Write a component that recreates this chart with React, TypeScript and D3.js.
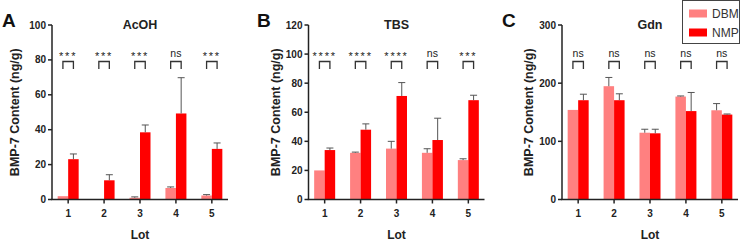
import React from 'react';
import * as d3 from 'd3';

// lots on the x axis
const lots = ['1', '2', '3', '4', '5'];
const groups = ['DBM', 'NMP'];

// AcOH extraction (ng/g)
const acohDbm = [1.9, 0, 1, 6.6, 2.3];
const acohDbmErr = [0, 0, 0.5, 0.6, 0.5];
const acohNmp = [23.1, 11, 38.5, 49.3, 29];
const acohNmpErr = [3, 3.2, 4.2, 20.5, 3.4];
const acohSig = ['***', '***', '***', 'ns', '***'];

// TBS extraction (ng/g)
const tbsDbm = [20, 32.1, 35, 32.1, 27.1];
const tbsDbmErr = [0, 0.5, 5, 2.8, 0.9];
const tbsNmp = [34, 48, 71.2, 40.9, 68.3];
const tbsNmpErr = [1.4, 4, 9.2, 15, 3.4];
const tbsSig = ['****', '****', '****', 'ns', '***'];

// Gdn extraction (ng/g)
const gdnDbm = [154, 194.8, 114.8, 177, 153.4];
const gdnDbmErr = [0, 15, 6, 1, 11.5];
const gdnNmp = [170.7, 170.7, 113.8, 152, 146];
const gdnNmpErr = [10.3, 11, 7, 32, 1];
const gdnSig = ['ns', 'ns', 'ns', 'ns', 'ns'];

const colors = { DBM: '#ff8080', NMP: '#ff0000' };
const font = '"Liberation Sans", Arial, sans-serif';
const ink = '#222';

const plotW = 176;
const plotTop = 25;
const plotBottom = 199.5;

function Panel({ x0, letter, letterX, title, yLabelX, yMax, yStep, dbm, dbmErr, nmp, nmpErr, sig }) {
  const x = d3.scalePoint().domain(lots).range([0, plotW]).padding(0.45);
  const sub = d3.scaleBand().domain(groups).range([-10.5, 10.5]);
  const y = d3.scaleLinear().domain([0, yMax]).range([plotBottom, plotTop]);
  const yTicks = d3.range(0, yMax + 1, yStep);
  const series = [
    { key: 'DBM', vals: dbm, errs: dbmErr },
    { key: 'NMP', vals: nmp, errs: nmpErr },
  ];
  const bw = sub.bandwidth();

  return (
    <g>
      <text x={letterX} y={27} fontSize={19} fontWeight="bold" fill="#111">{letter}</text>
      <text x={x0 + plotW / 2} y={29} textAnchor="middle" fontSize={12.5} fontWeight="bold" fill={ink}>{title}</text>
      <text
        transform={`translate(${yLabelX},${(plotTop + plotBottom) / 2}) rotate(-90)`}
        textAnchor="middle" dominantBaseline="central" fontSize={12.5} fontWeight="bold" fill={ink}
      >BMP-7 Content (ng/g)</text>
      <text x={x0 + plotW / 2} y={239} textAnchor="middle" fontSize={12} fontWeight="bold" fill={ink}>Lot</text>

      <g transform={`translate(${x0},0)`}>
        {series.map(s => s.vals.map((v, i) => {
          const cx = x(lots[i]) + sub(s.key) + bw / 2;
          const top = y(v);
          const errTop = y(v + s.errs[i]);
          return (
            <g key={s.key + i}>
              <rect x={x(lots[i]) + sub(s.key)} y={top} width={bw} height={plotBottom - top} fill={colors[s.key]} />
              {s.errs[i] > 0 && (
                <g stroke="#555" strokeWidth={1}>
                  <line x1={cx} x2={cx} y1={top} y2={errTop} />
                  <line x1={cx - 3.5} x2={cx + 3.5} y1={errTop} y2={errTop} />
                </g>
              )}
            </g>
          );
        }))}

        {/* significance brackets between DBM and NMP */}
        {sig.map((s, i) => {
          const l = x(lots[i]) + sub('DBM') + bw / 2;
          const r = x(lots[i]) + sub('NMP') + bw / 2;
          const star = s !== 'ns';
          return (
            <g key={'sig' + i}>
              <path d={`M${l},69V61.5H${r}V69`} fill="none" stroke="#333" strokeWidth={1.3} />
              <text x={x(lots[i])} y={star ? 60 : 57} textAnchor="middle" fontSize={star ? 11 : 10.5}
                letterSpacing={star ? 1.8 : 0} fill="#222">{s}</text>
            </g>
          );
        })}

        {/* y axis */}
        <line x1={0} x2={0} y1={plotTop} y2={plotBottom} stroke={ink} strokeWidth={1.5} />
        {yTicks.map(t => (
          <g key={'y' + t}>
            <line x1={-4} x2={0} y1={y(t)} y2={y(t)} stroke={ink} strokeWidth={1.5} />
            <text x={-6} y={y(t)} textAnchor="end" dominantBaseline="central" fontSize={10} fontWeight="bold" fill={ink}>{t}</text>
          </g>
        ))}

        {/* x axis */}
        <line x1={-0.75} x2={plotW} y1={plotBottom} y2={plotBottom} stroke={ink} strokeWidth={1.5} />
        {lots.map(l => (
          <g key={'x' + l}>
            <line x1={x(l)} x2={x(l)} y1={plotBottom} y2={plotBottom + 4} stroke={ink} strokeWidth={1.5} />
            <text x={x(l)} y={216.5} textAnchor="middle" fontSize={10} fontWeight="bold" fill={ink}>{l}</text>
          </g>
        ))}
      </g>
    </g>
  );
}

export default function App() {
  return (
    <svg width={746} height={244} style={{ position: 'absolute', left: 0, top: 0, background: 'white', fontFamily: font }}>
      <Panel x0={52} letter="A" letterX={2} title="AcOH" yLabelX={15} yMax={100} yStep={20}
        dbm={acohDbm} dbmErr={acohDbmErr} nmp={acohNmp} nmpErr={acohNmpErr} sig={acohSig} />
      <Panel x0={308.5} letter="B" letterX={257} title="TBS" yLabelX={276} yMax={120} yStep={20}
        dbm={tbsDbm} dbmErr={tbsDbmErr} nmp={tbsNmp} nmpErr={tbsNmpErr} sig={tbsSig} />
      <Panel x0={562} letter="C" letterX={502} title="Gdn" yLabelX={528.5} yMax={300} yStep={100}
        dbm={gdnDbm} dbmErr={gdnDbmErr} nmp={gdnNmp} nmpErr={gdnNmpErr} sig={gdnSig} />

      {/* legend */}
      <g>
        <rect x={682.5} y={0.5} width={57} height={43} fill="white" stroke="#444" strokeWidth={1} />
        {groups.map((gName, i) => (
          <g key={gName}>
            <rect x={689} y={9.5 + i * 19} width={18} height={8} fill={colors[gName]} />
            <text x={712} y={13.5 + i * 19} dominantBaseline="central" fontSize={12} fill="#333">{gName}</text>
          </g>
        ))}
      </g>
    </svg>
  );
}
